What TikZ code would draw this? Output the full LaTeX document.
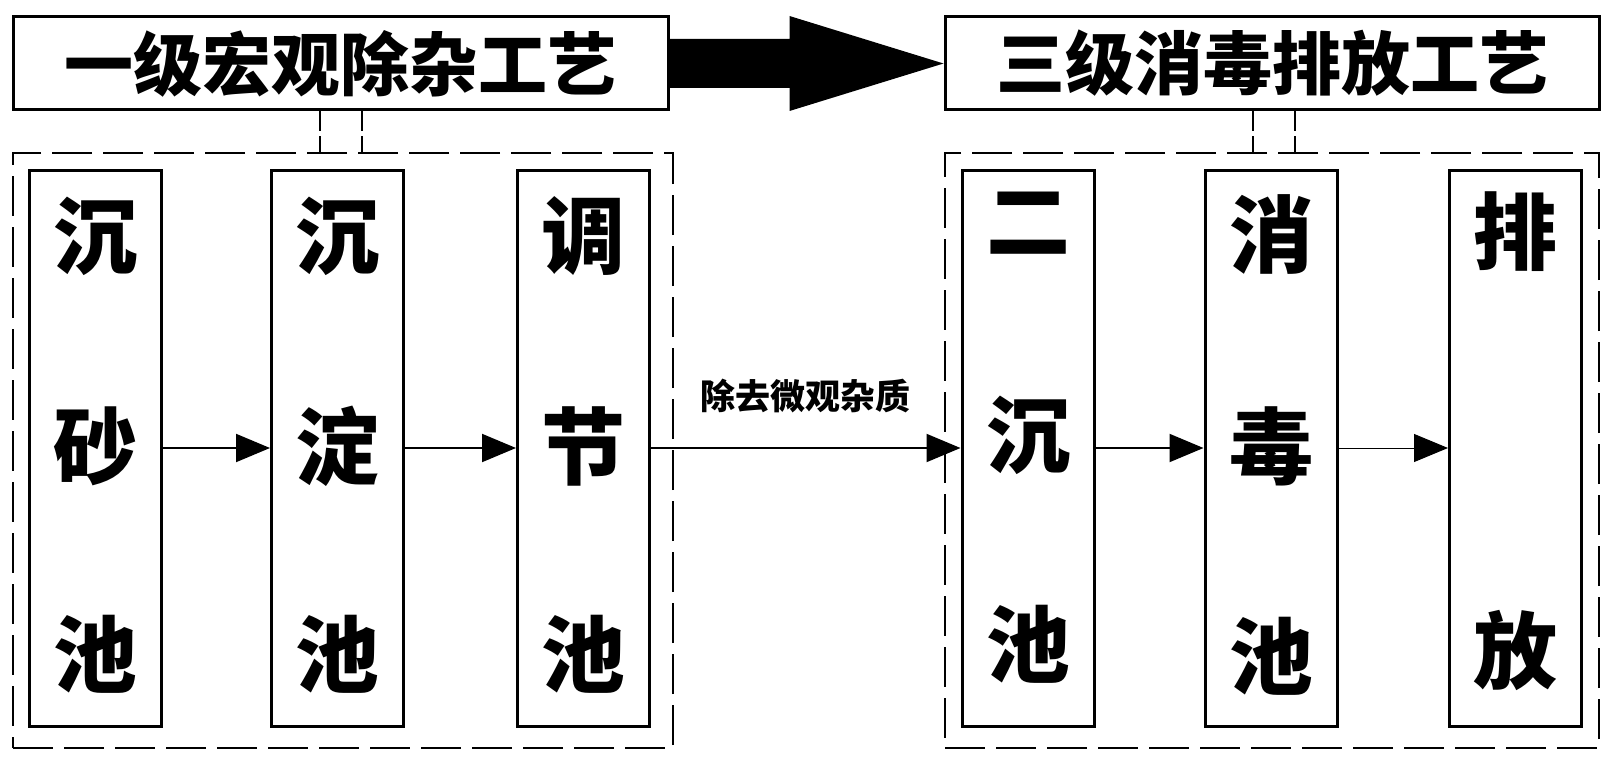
\documentclass[tikz,border=0pt]{standalone}
\usepackage{fontspec}
\newfontfamily\cjk{Noto Sans CJK SC}
\usetikzlibrary{arrows.meta,calc}
\tikzset{
  titlebox/.style={draw,line width=3pt,minimum width=655pt,minimum height=93pt,inner sep=0pt,
    font=\cjk\bfseries\fontsize{69pt}{80pt}\selectfont},
  groupbox/.style={draw,line width=2pt,dash pattern=on 40pt off 11pt,minimum width=660pt,minimum height=595pt,inner sep=0pt},
  pool/.style={draw,line width=3pt,minimum width=132pt,minimum height=556pt,inner sep=0pt},
  poolchar/.style={inner sep=0pt,font=\cjk\bfseries\fontsize{84pt}{96pt}\selectfont},
  flow/.style={line width=2pt,-{Triangle[length=34pt,width=28pt]}},
  conn/.style={line width=2pt,dash pattern=on 20pt off 5pt},
  lbl/.style={inner sep=0pt,font=\cjk\bfseries\fontsize{35pt}{40pt}\selectfont}
}
\begin{document}
\begin{tikzpicture}[x=1pt,y=-1pt]
\useasboundingbox (0,0) rectangle (1614,765);
\fill[white] (0,0) rectangle (1614,765);
% title boxes
\node[titlebox] (t1) at (340.5,63.5) {一级宏观除杂工艺};
\node[titlebox,minimum width=654pt] (t2) at (1272,63.5) {三级消毒排放工艺};
% group boxes
\node[groupbox] (g1) at (343,450.5) {};
\node[groupbox,minimum width=654pt] (g2) at (1272,450.5) {};
% connectors title -> group
\coordinate (c1a) at ($(t1.south)+(-21,0)$);
\coordinate (c1b) at ($(t1.south)+(21,0)$);
\draw[conn] (c1a) -- (c1a |- g1.north);
\draw[conn] (c1b) -- (c1b |- g1.north);
\coordinate (c2a) at ($(t2.south)+(-19,0)$);
\coordinate (c2b) at ($(t2.south)+(23,0)$);
\draw[conn] (c2a) -- (c2a |- g2.north);
\draw[conn] (c2b) -- (c2b |- g2.north);
% big arrow
\fill ($(t1.east)+(0,-24.5)$) -- ($(t1.east)+(120,-24.5)$) -- ($(t1.east)+(120,-47.5)$)
  -- (t2.west) -- ($(t1.east)+(120,47.5)$) -- ($(t1.east)+(120,24.5)$) -- ($(t1.east)+(0,24.5)$) -- cycle;
% pools
\node[pool] (b1) at (95,448) {};
\node[pool] (b2) at (337.5,448) {};
\node[pool] (b3) at (583.5,448) {};
\node[pool] (b4) at (1028,448) {};
\node[pool] (b5) at (1271,448) {};
\node[pool] (b6) at (1515.5,448) {};
% characters
\node[poolchar] (b1a) at (95,236) {沉};
\node[poolchar] (b1b) at (95,446) {砂};
\node[poolchar] (b1c) at (95,654) {池};
\node[poolchar] (b2a) at (337.5,236) {沉};
\node[poolchar] (b2b) at (337.5,446) {淀};
\node[poolchar] (b2c) at (337.5,654) {池};
\node[poolchar] (b3a) at (583.5,236) {调};
\node[poolchar] (b3b) at (583.5,446) {节};
\node[poolchar] (b3c) at (583.5,654) {池};
\node[poolchar] (b4a) at (1028,223) {二};
\node[poolchar] (b4b) at (1028,435) {沉};
\node[poolchar] (b4c) at (1028,644) {池};
\node[poolchar] (b5a) at (1271,234) {消};
\node[poolchar] (b5b) at (1271,446) {毒};
\node[poolchar] (b5c) at (1271,656) {池};
\node[poolchar] (b6a) at (1515.5,232) {排};
\node[poolchar] (b6b) at (1515.5,650) {放};
% flows
\draw[flow] (b1) -- (b2);
\draw[flow] (b2) -- (b3);
\draw[flow] (b3) -- node[lbl,above=34pt] (lab) {除去微观杂质} (b4);
\draw[flow] (b4) -- (b5);
\draw[flow,line width=1pt] (b5) -- (b6);
\end{tikzpicture}
\end{document}
